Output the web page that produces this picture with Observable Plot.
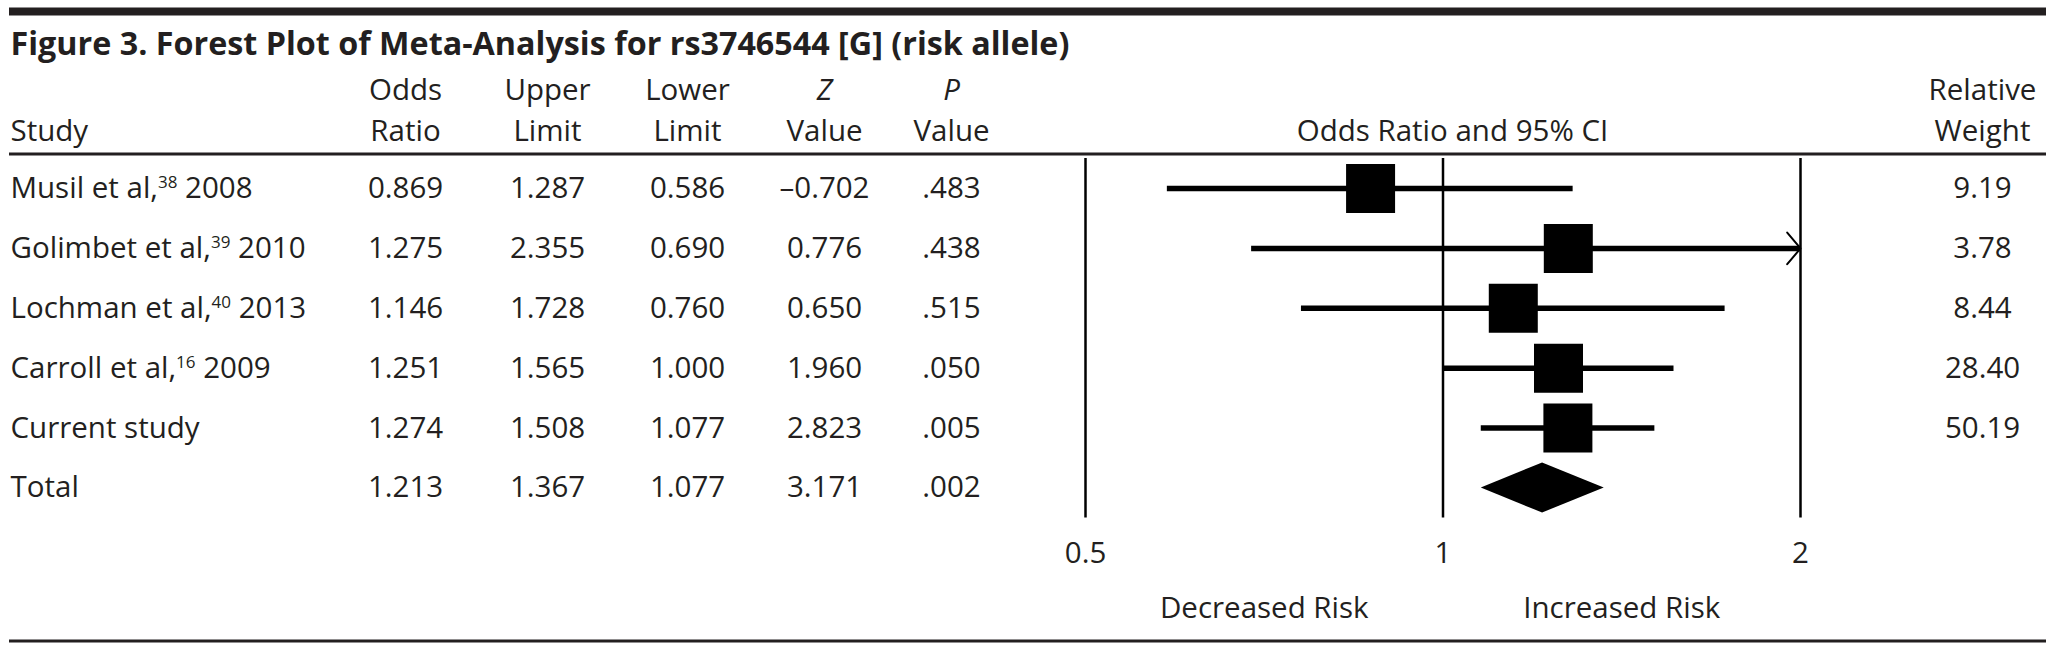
<!DOCTYPE html>
<html>
<head>
<meta charset="utf-8">
<script src="https://cdn.jsdelivr.net/npm/d3@7"></script>
<script src="https://cdn.jsdelivr.net/npm/@observablehq/plot@0.6"></script>
<style>
  html, body { margin: 0; padding: 0; background: #fff; }
</style>
</head>
<body>
<div id="chart"></div>
<script>
// ---------------- data ----------------
const title = "Figure 3. Forest Plot of Meta-Analysis for rs3746544 [G] (risk allele)";
const studies = ["Musil et al", "Golimbet et al", "Lochman et al", "Carroll et al", "Current study", "Total"];
const refs = [38, 39, 40, 16, null, null];
const years = [2008, 2010, 2013, 2009, null, null];
const oddsRatio = [0.869, 1.275, 1.146, 1.251, 1.274, 1.213];
const upperLimit = [1.287, 2.355, 1.728, 1.565, 1.508, 1.367];
const lowerLimit = [0.586, 0.690, 0.760, 1.000, 1.077, 1.077];
const zValue = [-0.702, 0.776, 0.650, 1.960, 2.823, 3.171];
const pValue = [0.483, 0.438, 0.515, 0.050, 0.005, 0.002];
const relWeight = [9.19, 3.78, 8.44, 28.40, 50.19, null];
const xTicks = [0.5, 1, 2];
const nullOR = 1;
const riskLabels = ["Decreased Risk", "Increased Risk"];

// ---------------- layout / style ----------------
const W = 2059, H = 652;
const FONT = "Open Sans";
const FS = 29.5;
const ink = "#231f20";
const rowFirst = 188, rowLast = 487.5;
const rowStep = (rowLast - rowFirst) / (studies.length - 1);
const toRow = px => (px - rowFirst) / rowStep;
const squareSide = 49;
const diamondHalf = 25;

const rows = studies.map((s, i) => ({
  i, study: s, ref: refs[i], year: years[i],
  or: oddsRatio[i], upper: upperLimit[i], lower: lowerLimit[i],
  z: zValue[i], p: pValue[i], w: relWeight[i],
  summary: s === "Total"
}));
const individual = rows.filter(d => !d.summary);
const pooled = rows.filter(d => d.summary);
const xMin = d3.min(xTicks), xMax = d3.max(xTicks);

const fmt3 = v => (v < 0 ? "\u2013" : "") + Math.abs(v).toFixed(3);
const fmtP = v => v.toFixed(3).replace(/^0/, "");
const fmtW = v => v == null ? "" : v.toFixed(2);
const studyLabel = d => d.ref ? `${d.study},^${d.ref}^ ${d.year}` : d.study;

const columns = [
  {h1: "", h2: "Study", value: studyLabel, x: 10, anchor: "start"},
  {h1: "Odds", h2: "Ratio", value: d => fmt3(d.or), x: 405},
  {h1: "Upper", h2: "Limit", value: d => fmt3(d.upper), x: 547},
  {h1: "Lower", h2: "Limit", value: d => fmt3(d.lower), x: 687},
  {h1: "Z", h2: "Value", value: d => fmt3(d.z), x: 824, italic: true},
  {h1: "P", h2: "Value", value: d => fmtP(d.p), x: 951, italic: true},
  {h1: "", h2: "Odds Ratio and 95% CI", value: null, x: 1452},
  {h1: "Relative", h2: "Weight", value: d => fmtW(d.w), x: 1982}
];
const headBase = 140, headLine = 40.5;
const headerText = c => c.h1 ? `${c.italic ? "_" + c.h1 + "_" : c.h1}\n${c.h2}` : c.h2;

const marks = [];

// rules
marks.push(Plot.ruleY([toRow(11)], {stroke: ink, strokeWidth: 8, insetLeft: 9, insetRight: 13}));
marks.push(Plot.ruleY([toRow(153.5)], {stroke: ink, strokeWidth: 3, insetLeft: 9, insetRight: 13}));
marks.push(Plot.ruleY([toRow(640.5)], {stroke: ink, strokeWidth: 3, insetLeft: 9, insetRight: 13}));

// title
marks.push(Plot.text([title], {text: d => d, frameAnchor: "top-left", dx: 10, dy: 54, lineAnchor: "bottom",
  textAnchor: "start", fontWeight: "bold", fontSize: 32.3, fill: ink}));

// headers & table columns
for (const c of columns) {
  const anchor = c.anchor || "middle";
  marks.push(Plot.text([c], {text: headerText, frameAnchor: "top-left", dx: c.x, dy: headBase,
    lineAnchor: "bottom", lineHeight: headLine / FS, textAnchor: anchor, fill: ink}));
  if (c.value) marks.push(Plot.text(rows, {y: "i", text: c.value, frameAnchor: "left", dx: c.x,
    textAnchor: anchor, lineAnchor: "middle", fill: ink}));
}

// reference lines
marks.push(Plot.ruleX(xTicks, {y1: -0.5, y2: studies.length - 0.5, stroke: "black", strokeWidth: 2.5}));
// CI lines
marks.push(Plot.ruleY(individual, {y: "i", x1: d => Math.max(d.lower, xMin), x2: d => Math.min(d.upper, xMax),
  stroke: "black", strokeWidth: 5.5}));
// arrows for truncated CIs
marks.push(Plot.arrow(individual.filter(d => d.upper > xMax), {x1: "or", y1: "i", x2: xMax, y2: "i",
  stroke: "black", strokeWidth: 2, headAngle: 100, headLength: 15.5}));
// point estimates
marks.push(Plot.dot(individual, {x: "or", y: "i", symbol: "square", r: squareSide / Math.sqrt(Math.PI), fill: "black"}));
// pooled diamond
const dh = diamondHalf / rowStep;
const diamond = pooled.flatMap(d => [
  {y: d.i - dh, x1: d.or, x2: d.or},
  {y: d.i, x1: d.lower, x2: d.upper},
  {y: d.i + dh, x1: d.or, x2: d.or}
]);
marks.push(Plot.areaX(diamond, {y: "y", x1: "x1", x2: "x2", fill: "black"}));

// axis tick labels
marks.push(Plot.text(xTicks, {x: d => d, text: d => String(d), frameAnchor: "top", dy: 553, lineAnchor: "middle", fill: ink}));
// risk labels
const riskX = [Math.sqrt(xMin * nullOR), Math.sqrt(nullOR * xMax)];
marks.push(Plot.text(riskLabels, {x: (d, i) => riskX[i], text: d => d, frameAnchor: "top", dy: 608, lineAnchor: "middle", fill: ink}));

const plot = Plot.plot({
  width: W, height: H,
  marginTop: 0, marginRight: 0, marginBottom: 0, marginLeft: 0,
  style: {fontFamily: FONT, fontSize: FS + "px", background: "#fff", color: ink, overflow: "visible"},
  x: {type: "log", domain: [xMin, xMax], range: [1085, 1800], axis: null},
  y: {type: "linear", domain: [0, studies.length - 1], range: [rowFirst, rowLast], axis: null},
  marks
});

// italic header symbols (Z, P)
plot.querySelectorAll("tspan").forEach(t => {
  const m = t.textContent.match(/^_(.+)_$/);
  if (!m) return;
  t.textContent = m[1];
  t.setAttribute("font-style", "italic");
});

// superscript references
const NS = "http://www.w3.org/2000/svg";
const supSize = 17, supShift = 10;
plot.querySelectorAll("text").forEach(t => {
  const m = t.textContent.match(/^(.*?)\^(\d+)\^(.*)$/);
  if (!m) return;
  t.textContent = "";
  const a = document.createElementNS(NS, "tspan"); a.textContent = m[1];
  const b = document.createElementNS(NS, "tspan"); b.textContent = m[2];
  b.setAttribute("font-size", supSize); b.setAttribute("dy", -supShift);
  const c = document.createElementNS(NS, "tspan"); c.textContent = m[3];
  c.setAttribute("dy", supShift);
  t.append(a, b, c);
});

document.getElementById("chart").appendChild(plot);
</script>
</body>
</html>
